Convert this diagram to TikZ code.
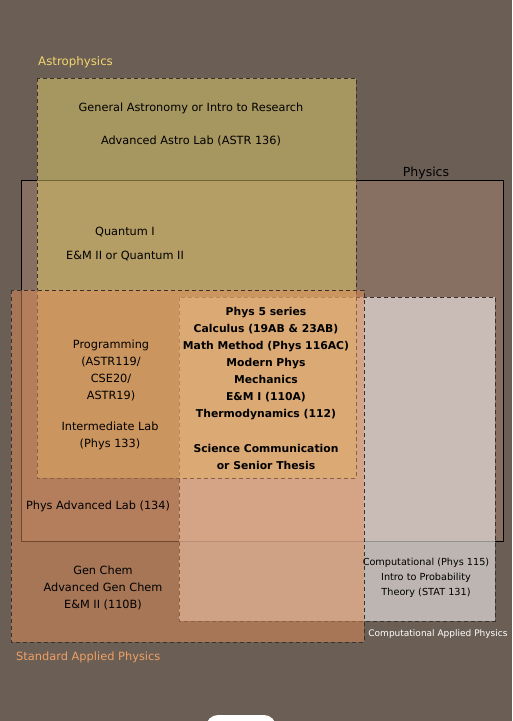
\documentclass[tikz,border=0pt]{standalone}
\usepackage{fontspec}
\setmainfont{DejaVu Sans}
\usetikzlibrary{positioning}

\definecolor{bgbrown}{RGB}{106,94,85}
\definecolor{physfill}{RGB}{203,151,128}
\definecolor{astrofill}{RGB}{226,206,107}
\definecolor{stdfill}{RGB}{226,142,90}
\definecolor{compfill}{RGB}{245,240,240}
\definecolor{edgegray}{RGB}{55,50,45}
\definecolor{astrolabel}{RGB}{243,214,108}
\definecolor{stdlabel}{RGB}{240,160,100}

\begin{document}
\begin{tikzpicture}[x=1pt,y=-1pt,
    area/.style={draw=edgegray, dash pattern=on 4pt off 3pt, line width=0.8pt},
    course/.style={font=\fontsize{11.3}{17}\selectfont, align=center, inner sep=0pt},
    core/.style={font=\bfseries\fontsize{10.8}{17}\selectfont, align=center, inner sep=0pt},
    small/.style={font=\fontsize{9.7}{15}\selectfont, align=center, inner sep=0pt}]
    \useasboundingbox (0,0) rectangle (512,721);
    \fill[bgbrown] (0,0) rectangle (512,721);

    % Areas
    \draw[black, line width=0.8pt, fill=physfill, fill opacity=0.3] (21,180) rectangle (503,541);
    \draw[area, fill=compfill, fill opacity=0.6] (179,297) rectangle (495,621);
    \draw[area, fill=astrofill, fill opacity=0.5] (37,78) rectangle (356,478);
    \draw[area, fill=stdfill, fill opacity=0.5] (11,290) rectangle (364,642);

    % Area labels
    \node[course, font=\fontsize{11.8}{14}\selectfont, text=astrolabel, anchor=west] (astro) at (38,62.5) {Astrophysics};
    \node[course, font=\fontsize{12.5}{14}\selectfont] (phys) at (426,173) {Physics};
    \node[course, font=\fontsize{11.4}{14}\selectfont, text=stdlabel, anchor=west] (std) at (16,657.5) {Standard Applied Physics};
    \node[small, font=\fontsize{9}{10}\selectfont, text=white] (comp) at (438,634) {Computational Applied Physics};

    % Courses
    \node[course] (genastro) at (191,108.5) {General Astronomy or Intro to Research};
    \node[course] (astrolab) at (191,140.5) {Advanced Astro Lab (ASTR 136)};
    \node[course] (quant) at (125,232.5) {Quantum I};
    \node[course] (emtwo) at (125,256.5) {E\&M II or Quantum II};
    \node[course] (prog) at (111,370) {Programming\\(ASTR119/\\CSE20/\\ASTR19)};
    \node[course] (interlab) at (110,436) {Intermediate Lab\\(Phys 133)};
    \node[course] (advlab) at (98,506.5) {Phys Advanced Lab (134)};
    \node[core] (shared) at (266,364) {Phys 5 series\\Calculus (19AB \& 23AB)\\Math Method (Phys 116AC)\\Modern Phys\\Mechanics\\E\&M I (110A)\\Thermodynamics (112)};
    \node[core] (thesis) at (266,457) {Science Communication\\or Senior Thesis};
    \node[course] (chem) at (103,587.5) {Gen Chem\\Advanced Gen Chem\\E\&M II (110B)};
    \node[small] (numeric) at (426,577.5) {Computational (Phys 115)\\Intro to Probability\\Theory (STAT 131)};

    \fill[white, rounded corners=12pt] (206,715) rectangle (276,745);
\end{tikzpicture}
\end{document}
